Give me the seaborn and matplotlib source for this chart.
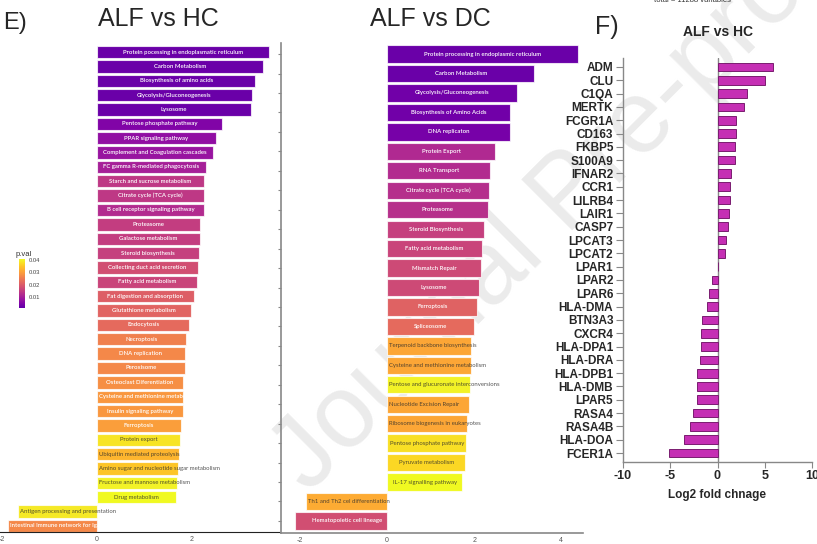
"""
Pathway enrichment (ALF vs HC / ALF vs DC) + log2 fold change of selected genes
"""

import numpy as np
import matplotlib
matplotlib.use('Agg')
import matplotlib.pyplot as plt
import matplotlib.colors as mcolors
import seaborn as sns

# ==================== 数据 ====================

# E) ALF vs HC
hc_paths = ['Protein pocessing in endoplasmatic reticulum', 'Carbon Metabolism',
            'Biosynthesis of amino acids', 'Glycolysis/Gluconeogenesis', 'Lysosome',
            'Pentose phosphate pathway', 'PPAR signaling pathway',
            'Complement and Coagulation cascades', 'FC gamma R-mediated phagocytosis',
            'Starch and sucrose metabolism', 'Citrate cycle (TCA cycle)',
            'B cell receptor signaling pathway', 'Proteasome', 'Galactose metabolism',
            'Steroid biosynthesis', 'Collecting duct acid secretion',
            'Fatty acid metabolism', 'Fat digestion and absorption',
            'Glutathione metabolism', 'Endocytosis', 'Necroptosis', 'DNA replication',
            'Peroxisome', 'Osteoclast Diferentiation',
            'Cysteine and methionine metabolism', 'Insulin signaling pathway',
            'Ferroptosis', 'Protein export', 'Ubiquitin mediated proteolysis',
            'Amino sugar and nucleotide sugar metabolism',
            'Fructose and mannose metabolism', 'Drug metabolism',
            'Antigen processing and presentation', 'Intestinal Immune network for IgA']
hc_score = [3.62, 3.49, 3.33, 3.26, 3.24, 2.63, 2.50, 2.44, 2.29, 2.25, 2.25, 2.25,
            2.17, 2.17, 2.15, 2.13, 2.10, 2.04, 1.98, 1.94, 1.87, 1.85, 1.85, 1.81,
            1.81, 1.81, 1.77, 1.75, 1.73, 1.71, 1.68, 1.66, -1.66, -1.87]
hc_pval = [0.002, 0.002, 0.002, 0.002, 0.002, 0.005, 0.007, 0.008, 0.010, 0.014,
           0.014, 0.012, 0.015, 0.015, 0.0155, 0.018, 0.016, 0.0205, 0.0215, 0.0225,
           0.026, 0.027, 0.027, 0.028, 0.029, 0.029, 0.030, 0.0386, 0.033, 0.035,
           0.040, 0.041, 0.039, 0.027]

# E) ALF vs DC
dc_paths = ['Protein processing in endoplasmic reticulum', 'Carbon Metabolism',
            'Glycolysis/Gluconeogenesis', 'Biosynthesis of Amino Acids',
            'DNA replicaton', 'Protein Export', 'RNA Transport',
            'Citrate cycle (TCA cycle)', 'Proteasome', 'Steroid Biosynthesis',
            'Fatty acid metabolism', 'Mismatch Repair', 'Lysosome', 'Ferroptosis',
            'Spliceosome', 'Terpenoid backbone biosynthesis',
            'Cysteine and methionine metabolism',
            'Pentose and glucuronate interconversions', 'Nucleotide Excision Repair',
            'Ribosome biogenesis in eukaryotes', 'Pentose phosphate pathway',
            'Pyruvate metabolism', 'IL-17 signalling pathway',
            'Th1 and Th2 cel differentiation', 'Hematopoietic cell lineage']
dc_score = [4.39, 3.38, 2.99, 2.83, 2.83, 2.48, 2.37, 2.34, 2.32, 2.23, 2.18, 2.16,
            2.12, 2.07, 2.00, 1.93, 1.93, 1.91, 1.89, 1.84, 1.82, 1.79, 1.72,
            -1.86, -2.11]
dc_pval = [0.002, 0.002, 0.003, 0.003, 0.0035, 0.0115, 0.012, 0.0125, 0.0128, 0.0155,
           0.016, 0.017, 0.017, 0.021, 0.0225, 0.031, 0.031, 0.040, 0.031, 0.031,
           0.038, 0.037, 0.041, 0.0317, 0.018]

# F) ALF vs HC 基因
genes = ['ADM', 'CLU', 'C1QA', 'MERTK', 'FCGR1A', 'CD163', 'FKBP5', 'S100A9',
         'IFNAR2', 'CCR1', 'LILRB4', 'LAIR1', 'CASP7', 'LPCAT3', 'LPCAT2', 'LPAR1',
         'LPAR2', 'LPAR6', 'HLA-DMA', 'BTN3A3', 'CXCR4', 'HLA-DPA1', 'HLA-DRA',
         'HLA-DPB1', 'HLA-DMB', 'LPAR5', 'RASA4', 'RASA4B', 'HLA-DOA', 'FCER1A']
lfc = [5.86, 5.00, 3.07, 2.79, 1.94, 1.94, 1.80, 1.80, 1.45, 1.34, 1.34, 1.23, 1.06,
       0.92, 0.78, 0.0, -0.53, -0.85, -1.16, -1.59, -1.76, -1.73, -1.87, -2.12,
       -2.15, -2.22, -2.57, -2.96, -3.53, -5.11]

pval_ticks = [0.01, 0.02, 0.03, 0.04]

# ==================== 风格 ====================

sns.set_style('white')
plt.rcParams['font.family'] = ['Liberation Sans', 'DejaVu Sans']
plt.rcParams['axes.unicode_minus'] = False

W, H = 817, 544
cmap = mcolors.ListedColormap(plt.cm.plasma(np.linspace(0.18, 1.0, 256)))
norm = mcolors.Normalize(vmin=0.001, vmax=0.041)

# 标签对齐方式 (其余居中)
LEFT_LABELS = {'Cysteine and methionine metabolism', 'Ubiquitin mediated proteolysis',
               'Amino sugar and nucleotide sugar metabolism',
               'Fructose and mannose metabolism', 'Antigen processing and presentation',
               'Intestinal Immune network for IgA', 'Terpenoid backbone biosynthesis',
               'Pentose and glucuronate interconversions', 'Nucleotide Excision Repair',
               'Ribosome biogenesis in eukaryotes', 'Th1 and Th2 cel differentiation'}
RIGHT_LABELS = {'Hematopoietic cell lineage'}


def px_axes(fig, x0, y0, x1, y1):
    """像素坐标 -> figure坐标的axes"""
    return fig.add_axes([x0 / W, 1 - y1 / H, (x1 - x0) / W, (y1 - y0) / H])


def draw_pathways(ax, names, scores, pvals, bar_w):
    colors = [cmap(norm(p)) for p in pvals]
    sns.barplot(x=scores, y=names, hue=names, palette=colors, legend=False,
                orient='h', width=bar_w, saturation=1, ax=ax,
                edgecolor=(1, 1, 1, 0.75), linewidth=0.8)
    for i, (name, s, p) in enumerate(zip(names, scores, pvals)):
        dark = p > 0.0305
        kw = dict(fontsize=4.3, family=['Lato', 'DejaVu Sans'], va='center',
                  color='#2b2b2b' if dark else 'white', alpha=0.8 if dark else 1,
                  fontweight='normal' if dark else 'semibold', zorder=5)
        if name in LEFT_LABELS:
            ax.text(min(0, s) + 0.05, i, name, ha='left', **kw)
        elif name in RIGHT_LABELS:
            ax.text(-0.12, i, name, ha='right', **kw)
        else:
            ax.text(s / 2, i, name, ha='center', **kw)
    ax.set_yticks(range(len(names)))
    ax.set_yticklabels([])
    ax.set_ylabel('')
    ax.set_xlabel('')
    ax.set_facecolor('none')
    ax.spines[['top', 'right']].set_visible(False)
    ax.tick_params(axis='x', labelsize=5, labelcolor='#555555', length=2,
                   width=0.8, color='#666666', pad=1)


fig = plt.figure(figsize=(W / 100, H / 100), dpi=100)
fig.patch.set_facecolor('white')

# 水印
fig.text(570 / W, 1 - 195 / H, 'Journal Pre-proof', rotation=45, fontsize=74,
         ha='center', va='center', color='#ebebeb', zorder=-1)

# ---- E) 左: ALF vs HC
ax1 = px_axes(fig, 0, 40, 280, 532)
draw_pathways(ax1, hc_paths, hc_score, hc_pval, 0.86)
ax1.set_xlim(-2.04, 3.85)
ax1.set_ylim(33.42, -0.836)
ax1.set_xticks([-2, 0, 2])
ax1.spines['left'].set_visible(False)
ax1.spines['bottom'].set_color('#222222')
ax1.tick_params(axis='y', length=0)

# ---- E) 中: ALF vs DC
ax2 = px_axes(fig, 281, 43, 583, 533)
draw_pathways(ax2, dc_paths, dc_score, dc_pval, 0.89)
ax2.set_xlim(-2.44, 4.5)
ax2.set_ylim(24.62, -0.57)
ax2.set_xticks([-2, 0, 2, 4])
for sp in ['left', 'bottom']:
    ax2.spines[sp].set_color('#888888')
    ax2.spines[sp].set_linewidth(1.2)
ax2.tick_params(axis='y', length=2, width=0.8, color='#888888', left=True)

# 颜色条
cax = px_axes(fig, 19, 259, 25, 308)
sm = plt.cm.ScalarMappable(cmap=cmap, norm=norm)
cb = fig.colorbar(sm, cax=cax, ticks=pval_ticks)
cb.outline.set_visible(False)
cb.ax.tick_params(labelsize=4.2, labelcolor='#444444', length=0, pad=3)
cax.set_title('p.val', loc='left', fontsize=5.5, color='#333333', pad=2, x=-0.6)

# 标题
fig.text(15 / W, 1 - 23 / H, 'E)', fontsize=17, ha='center', va='center')
fig.text(158 / W, 1 - 19 / H, 'ALF vs HC', fontsize=18, ha='center', va='center')
fig.text(430 / W, 1 - 19 / H, 'ALF vs DC', fontsize=18, ha='center', va='center')

# ---- F) 基因 log2FC
ax3 = px_axes(fig, 623, 58, 812, 462)
sns.barplot(x=lfc, y=genes, orient='h', color='#c52fb4', saturation=1,
            width=0.65, edgecolor='#7a1d70', linewidth=0.7, ax=ax3)
ax3.axvline(0, color='#888888', linewidth=1, zorder=0)
ax3.set_xlim(-10, 10)
ax3.set_ylim(29.67, -0.67)
ax3.set_xticks([-10, -5, 0, 5, 10])
ax3.set_facecolor('none')
ax3.spines[['top', 'right']].set_visible(False)
for sp in ['left', 'bottom']:
    ax3.spines[sp].set_color('#888888')
    ax3.spines[sp].set_linewidth(1)
ax3.tick_params(axis='y', length=5, width=0.8, color='#888888', pad=2, left=True)
ax3.tick_params(axis='x', length=4, width=0.8, color='#888888', pad=2, bottom=True)
for lab in ax3.get_yticklabels():
    lab.set_fontsize(8.5)
    lab.set_fontweight('bold')
for lab in ax3.get_xticklabels():
    lab.set_fontsize(9)
    lab.set_fontweight('bold')
ax3.set_ylabel('')
ax3.set_xlabel('Log2 fold chnage', fontsize=8.5, fontweight='bold', labelpad=5)

fig.text(607 / W, 1 - 27 / H, 'F)', fontsize=18, ha='center', va='center')
fig.text(718 / W, 1 - 32 / H, 'ALF vs HC', fontsize=10, fontweight='bold',
         ha='center', va='center')
fig.text(692 / W, 1 - 1 / H, 'total = 11288 variables', fontsize=5.5,
         color='#333333', ha='center', va='center')

fig.savefig('out.png', dpi=100)
